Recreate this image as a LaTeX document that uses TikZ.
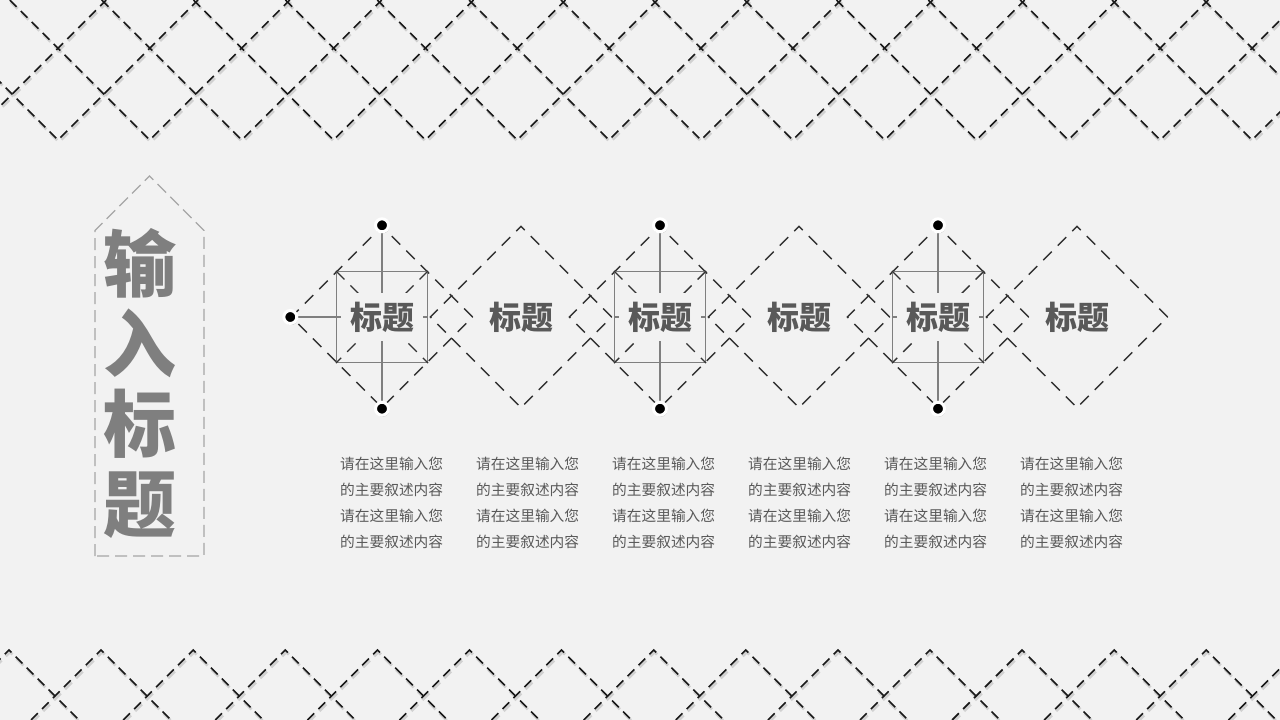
\documentclass[tikz,border=0pt]{standalone}
\usepackage{fontspec}
\newfontfamily\cjk{Noto Sans CJK SC}
\usetikzlibrary{shapes.geometric,shadows}
\definecolor{bg}{HTML}{F2F2F2}
\definecolor{txtgray}{HTML}{595959}
\definecolor{taggray}{HTML}{7F7F7F}
\definecolor{tagline}{HTML}{A6A6A6}
\tikzset{%
    lattice/.style={black!90, line width=1.6pt, dash pattern=on 9.5pt off 6pt},
    lattice shadow/.style={black!18, line width=2.8pt, dash pattern=on 9.5pt off 6pt},
    rhomb/.style={diamond, draw=black!80, line width=1.4pt, dash pattern=on 12pt off 8.5pt,
        minimum width=182pt, minimum height=182pt, inner sep=0pt},
    cross/.style={black!80, line width=1.4pt, dash pattern=on 12pt off 8.5pt},
    frame/.style={draw=taggray, line width=1.2pt, minimum size=91pt, inner sep=0pt},
    hair/.style={taggray, line width=1.2pt},
    pin/.style={circle, fill=black, draw=white, line width=3pt, minimum size=13pt, inner sep=0pt,
        drop shadow={shadow xshift=0.8pt, shadow yshift=-1.5pt, fill=black, opacity=0.25}},
    heading/.style={font=\cjk\bfseries\fontsize{32}{32}\selectfont, text=txtgray, fill=bg,
        inner xsep=9pt, inner ysep=9pt},
    blurb/.style={font=\cjk\fontsize{14.7}{26}\selectfont, text=txtgray, align=left,
        anchor=west, inner sep=0pt},
}

\begin{document}
\begin{tikzpicture}[x=1pt,y=-1pt]
\fill[bg] (0,0) rectangle (1280,720);
\useasboundingbox (0,0) rectangle (1280,720);

% lattice bands
\begin{scope}
\clip (0,0) rectangle (1280,720);
\foreach \k in {-1,...,14}{
    \draw[lattice shadow, shift={(1,2)}] (58+91.85*\k-140,0) -- (58+91.85*\k,140) -- (58+91.85*\k+140,0);
    \draw[lattice shadow, shift={(1,2)}] (9+92.1*\k-70,720) -- (9+92.1*\k,650) -- (9+92.1*\k+70,720);
}
\foreach \k in {-1,...,14}{
    \draw[lattice] (58+91.85*\k-140,0) -- (58+91.85*\k,140) -- (58+91.85*\k+140,0);
    \draw[lattice] (9+92.1*\k-70,720) -- (9+92.1*\k,650) -- (9+92.1*\k+70,720);
}
\end{scope}

\draw[tagline, line width=1.3pt, dash pattern=on 12pt off 6pt]
    (95,556) -- (95,230.5) -- (149.5,176) -- (204,230.5) -- (204,556) -- cycle;
\node[font=\cjk\bfseries\fontsize{73}{80}\selectfont, text=taggray, align=center] (tag) at (140,383)
    {输\\入\\标\\题};

\foreach \i in {1,...,6}
    \node[rhomb] (d\i) at (382+139*\i-139,317) {};

\foreach \i in {1,3,5}{
    \node[frame] (s\i) at (d\i) {};
    \draw[cross] (s\i.north west) -- (s\i.south east);
    \draw[cross] (s\i.north east) -- (s\i.south west);
    \draw[hair] (d\i.north) -- (d\i.south);
    \draw[hair] (s\i.west) -- (s\i.east);
}
\draw[hair] (d1.west) -- (s1.west);

\foreach \i in {1,...,6}
    \node[heading] (t\i) at (d\i) {标题};

\foreach \i in {1,3,5}{
    \node[pin] (top\i) at (d\i.north) {};
    \node[pin] (bot\i) at (d\i.south) {};
}
\node[pin] (left1) at (d1.west) {};

\foreach \i in {1,...,6}
    \node[blurb] (b\i) at (340+136*\i-136,503)
        {请在这里输入您\\的主要叙述内容\\请在这里输入您\\的主要叙述内容};
\end{tikzpicture}
\end{document}
